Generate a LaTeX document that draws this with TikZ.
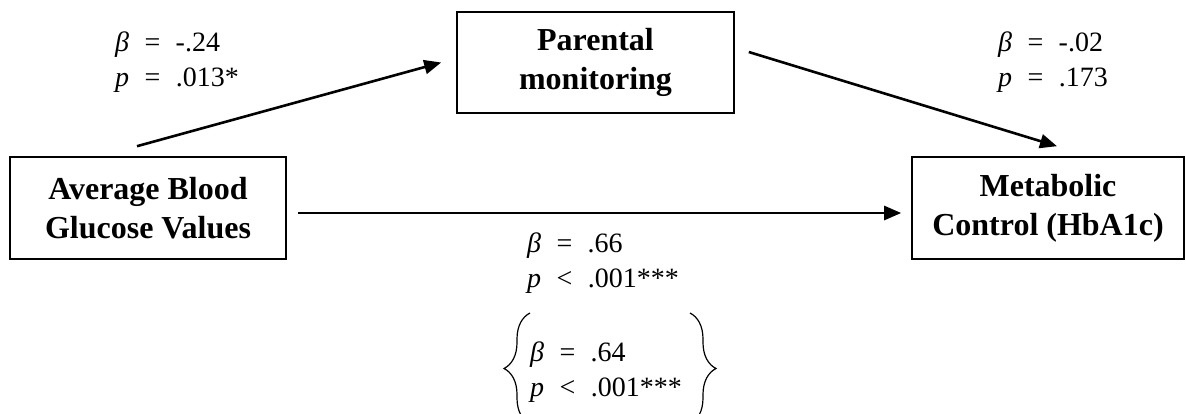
\documentclass[tikz,border=0pt]{standalone}
\usepackage{fontspec}
\setmainfont{Liberation Serif}
\usetikzlibrary{arrows.meta,positioning,decorations.pathreplacing}

\newcommand{\rel}[1]{\hspace{.55em}#1\hspace{.55em}}

\begin{document}
\begin{tikzpicture}[x=1pt,y=-1pt,>={Triangle[length=17pt,width=14pt]},
    var/.style={draw,line width=1.6pt,inner sep=0pt,align=center,font=\bfseries\fontsize{32}{39}\selectfont},
    stat/.style={inner sep=0pt,align=left,anchor=north west,font=\fontsize{28}{35}\selectfont},
    link/.style={->,line width=2.6pt},
    curly/.style={decorate,decoration={brace,amplitude=26pt},line width=1.2pt}]
    \useasboundingbox (0,0) rectangle (1186,413);

    \node[var, minimum width=276pt, minimum height=102pt] (avg) at (148,208) {Average Blood\\Glucose Values};
    \node[var, minimum width=277pt, minimum height=101pt] (par) at (595.5,62.5) {Parental\\monitoring};
    \node[var, minimum width=272pt, minimum height=102pt] (met) at (1048,208) {Metabolic\\Control (HbA1c)};

    \draw[link] ([shift={(-11,-10)}]avg.north) -- ([xshift=-15pt]par.west);
    \draw[link] ([shift={(14,-10.5)}]par.east) -- ([shift={(9,-10)}]met.north);
    \draw[link] ([shift={(11,5)}]avg.east) -- ([shift={(-10,5)}]met.west);

    \node[stat] (ab) at (115,32) {\textit{β}\rel{=}-.24\\\textit{p}\rel{=}.013*};
    \node[stat] (bc) at (998,32) {\textit{β}\rel{=}-.02\\\textit{p}\rel{=}.173};
    \node[stat] (ac) at (527,233) {\textit{β}\rel{=}.66\\\textit{p}\rel{<}.001***};
    \node[stat] (total) at (530,342) {\textit{β}\rel{=}.64\\\textit{p}\rel{<}.001***};

    % braces round the total effect
    \draw[curly] (530,424) -- (530,313);
    \draw[curly] (690,313) -- (690,424);
\end{tikzpicture}
\end{document}
